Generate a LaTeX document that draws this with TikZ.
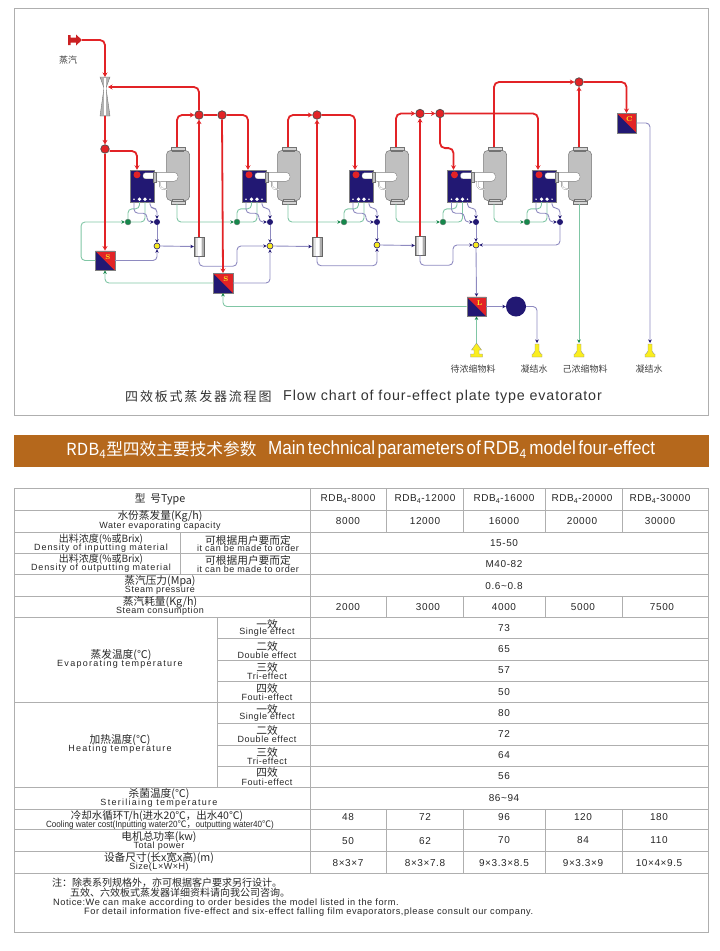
\documentclass[tikz,border=0pt]{standalone}
\usepackage{fontspec}
\usetikzlibrary{arrows.meta, positioning}
\newfontfamily\cjk{Noto Sans CJK SC}
\newfontfamily\cjkw[LetterSpace=14]{Noto Sans CJK SC}
\newfontfamily\lat[FakeStretch=0.9]{Liberation Sans}
\newfontfamily\latw[LetterSpace=6]{Liberation Sans}
\newfontfamily\latm[LetterSpace=10]{Liberation Sans}
\newfontfamily\latx[LetterSpace=14]{Liberation Sans}
\definecolor{steamred}{RGB}{226,35,38}
\definecolor{navy}{RGB}{34,24,115}
\definecolor{condline}{RGB}{142,138,192}
\definecolor{concline}{RGB}{128,198,165}
\definecolor{valvegreen}{RGB}{22,135,75}
\definecolor{sepgray}{RGB}{192,192,192}
\definecolor{tablegray}{RGB}{175,175,175}
\definecolor{bannerbrown}{RGB}{181,104,28}
\definecolor{pipeyellow}{RGB}{250,238,30}
\tikzset{
  steam/.style={draw=steamred, line width=1.8pt, rounded corners=5pt, -{Stealth[length=4.5pt,width=5pt]}},
  steamplain/.style={draw=steamred, line width=1.8pt, rounded corners=5pt},
  cond/.style={draw=condline, line width=0.9pt, rounded corners=4pt},
  condtip/.style={cond, -{Stealth[length=3.5pt,width=3.5pt,color=navy]}},
  conc/.style={draw=concline, line width=0.9pt, rounded corners=4pt},
  conctip/.style={conc, -{Stealth[length=3.5pt,width=3.5pt,color=valvegreen]}},
  junct/.style={circle, fill=steamred, draw=black!70, line width=0.7pt, minimum size=8.5pt, inner sep=0pt},
  greenv/.style={circle, fill=valvegreen, draw=black!50, line width=0.3pt, minimum size=6pt, inner sep=0pt},
  navyv/.style={circle, fill=navy, minimum size=6pt, inner sep=0pt},
  yellowv/.style={circle, fill=pipeyellow, draw=navy, line width=0.6pt, minimum size=6pt, inner sep=0pt},
  plate/.style={rectangle, fill=navy, draw=gray, line width=0.4pt, minimum width=24pt, minimum height=32pt, inner sep=0pt},
  sepbody/.style={rectangle, rounded corners=4pt, fill=sepgray, draw=black!55, line width=0.5pt, minimum width=23pt, minimum height=50pt, inner sep=0pt},
  flange/.style={rectangle, fill=sepgray!70, draw=black!55, line width=0.4pt, minimum width=14pt, minimum height=2.6pt, inner sep=0pt},
  tank/.style={rectangle, fill=black!32, draw=black!60, line width=0.4pt, minimum width=10pt, minimum height=19pt, inner sep=0pt,
    path picture={\fill[black!10] ([xshift=-3pt]path picture bounding box.south) rectangle ([xshift=3pt]path picture bounding box.north);
      \fill[white] ([xshift=-1.5pt]path picture bounding box.south) rectangle ([xshift=1.5pt]path picture bounding box.north);}},
  hx/.style={rectangle, fill=navy, draw=gray, line width=0.4pt, minimum size=19.5pt, inner sep=0pt,
    path picture={\fill[steamred] (path picture bounding box.north west) -- (path picture bounding box.north east) -- (path picture bounding box.south east) -- cycle;}},
  hxtext/.style={font=\bfseries\fontsize{7}{7}\selectfont, text=pipeyellow, inner sep=0pt},
  outlet/.style={fill=pipeyellow, draw=black!45, line width=0.3pt},
  flowlbl/.style={font=\cjk\fontsize{9}{9}\selectfont, text=black!75, inner sep=0pt},
  cncell/.style={font=\cjk\fontsize{10.7}{10.7}\selectfont, text=black!85, inner sep=0pt},
  encell/.style={font=\latw\fontsize{9}{9}\selectfont, text=black!85, inner sep=0pt},
  numcell/.style={font=\latw\fontsize{10}{10}\selectfont, text=black!85, inner sep=0pt},
  grid/.style={draw=tablegray, line width=0.7pt}
}
\begin{document}
\begin{tikzpicture}[x=1pt, y=-1pt]
    \useasboundingbox (0,0) rectangle (720,951);

    % outer frame of the flow chart
    \draw[grid] (14,8) rectangle (708,415.5);

    % evaporator sets: plate box, tube, separator, valves
    \foreach \n/\plx/\sepx/\gvx/\pvx in {1/142/178/128/157, 2/254/289/237/270, 3/361/397/344/377, 4/459.5/495/443/476, 5/544/580/527/560} {
        \node[sepbody] (sep\n) at (\sepx,175.5) {};
        \node[flange, minimum width=11pt] (ntop\n) at (\sepx,150.2) {};
        \node[flange] (topf\n) at (\sepx,148.4) {};
        \node[flange, minimum width=11pt] (nbot\n) at (\sepx,200.8) {};
        \node[flange] (botf\n) at (\sepx,202.6) {};
        \node[plate] (pl\n) at (\plx,186) {};
        % steam inlet dot and vapour slot
        \fill[steamred] (pl\n.north) ++(-5,5) circle (3.5pt);
        \filldraw[fill=white, draw=black!40, line width=0.3pt, rounded corners=2.5pt] (pl\n.north) ++(1,3) rectangle ++(13,6);
        \filldraw[fill=white, draw=black!50, line width=0.4pt, rounded corners=4pt] (pl\n.north) ++(12,2.5) rectangle ++(24,9);
        \filldraw[fill=sepgray, draw=black!55, line width=0.3pt] (pl\n.north) ++(11.5,2) rectangle ++(3,10);
        \draw[black!50, double=white, line width=0.3pt, double distance=1pt, rounded corners=2pt] (pl\n.north) ++(18,11.5) -- ++(0,7) -- ++(7,1);
        % ports along the bottom of the plate box
        \fill[white] (pl\n.south) ++(-8,-3) circle (0.8pt);
        \fill[white] (pl\n.south) ++(-2.5,-3) circle (1.8pt);
        \fill[white] (pl\n.south) ++(3,-3) circle (1.8pt);
        \fill[white] (pl\n.south) ++(8,-3) circle (0.8pt);
        \node[greenv] (gv\n) at (\gvx,222) {};
        \node[navyv] (pv\n) at (\pvx,222) {};
        % branch lines under the plate box
        \draw[conc] (gv\n.north) -- ++(0,-10) -| ([xshift=-2.5pt]pl\n.south);
        \draw[conc] ([xshift=3pt]pl\n.south) |- (gv\n.east);
        \draw[condtip] ([xshift=-8pt]pl\n.south) |- ++(13,11) |- (pv\n.west);
        \draw[condtip] ([xshift=8pt]pl\n.south) -- ++(0,6) -| (pv\n.north);
    }

    % heat exchangers, tanks, pump
    \node[hx] (s1) at (105,260.5) {};
    \node[hxtext] (s1t) at ([shift={(3,-3.5)}]s1.center) {S};
    \node[hx] (s2) at (223,283) {};
    \node[hxtext] (s2t) at ([shift={(3,-3.5)}]s2.center) {S};
    \node[hx] (lbox) at (476.5,306.5) {};
    \node[hxtext] (lboxt) at ([shift={(3,-3.5)}]lbox.center) {L};
    \node[hx] (cbox) at (626.5,123) {};
    \node[hxtext] (cboxt) at ([shift={(3,-3.5)}]cbox.center) {C};
    \node[tank] (ta1) at (199,246.5) {};
    \node[tank] (ta2) at (317,246.5) {};
    \node[tank] (ta3) at (420,245.5) {};
    \node[circle, fill=navy, minimum size=20pt, inner sep=0pt] (pump) at (516,306.5) {};

    % junctions on the steam line and on the liquid line
    \node[junct] (j1) at (105,149) {};
    \node[junct] (j2) at (199,115) {};
    \node[junct] (j3) at (222,115) {};
    \node[junct] (j4) at (317,115) {};
    \node[junct] (j5) at (420,113.5) {};
    \node[junct] (j6) at (440,113.5) {};
    \node[junct] (j7) at (579,82) {};
    \node[yellowv] (yv1) at (157,246) {};
    \node[yellowv] (yv2) at (270,246) {};
    \node[yellowv] (yv3) at (377,245) {};
    \node[yellowv] (yv4) at (476,245) {};

    % ejector and steam inlet
    \coordinate (ejt) at (105,77);
    \coordinate (ejb) at (105,116);
    \coordinate (ejs) at (108,87);
    \coordinate (inlet) at (82,40);
    \filldraw[fill=black!30, draw=black!55, line width=0.4pt] (100,77) -- (110,77) -- (106,88) -- (110,116) -- (100,116) -- (104,88) -- cycle;
    \fill[white] (104.3,78) -- (105.7,78) -- (105.7,115) -- (104.3,115) -- cycle;
    \fill[steamred!90!black] (68,35) rectangle (70.5,45) (70.5,37.5) rectangle (76,42.5);
    \fill[steamred!90!black] (76,34.5) -- (82,40) -- (76,45.5) -- cycle;

    % outlets and feed
    \foreach \nm/\x in {outa/537, outc/579, outd/650} {
        \coordinate (\nm) at (\x,343);
        \filldraw[outlet] (\nm) ++(-2,1) -- ++(4,0) -- ++(0,7) -- ++(2,3) -- ++(1,0) -- ++(0,3) -- ++(-10,0) -- ++(0,-3) -- ++(1,0) -- ++(2,-3) -- cycle;
    }
    \coordinate (feed) at (476.5,343);
    \filldraw[outlet] (feed) -- ++(5,7) -- ++(-2.5,0) -- ++(0,4) -- ++(3.5,0) -- ++(0,3) -- ++(-12,0) -- ++(0,-3) -- ++(3.5,0) -- ++(0,-4) -- ++(-2.5,0) -- cycle;

    % concentrate lines
    \foreach \a/\b in {1/2, 2/3, 3/4, 4/5}
        \draw[conctip] ([xshift=-1pt]botf\a.south) |- (gv\b.west);
    \draw[conctip] (s1.west) -- ++(-14,0) |- (gv1.west);
    \draw[conctip] (s2.west) -| (s1.south);
    \draw[conctip] (lbox.west) -| (s2.south);
    \draw[conctip] (feed) -- (lbox.south);
    \draw[conctip] ([xshift=-1pt]botf5.south) -- (outc);

    % condensate and liquid lines
    \foreach \n in {1,2,3,4}
        \draw[condtip] (pv\n.south) -- (yv\n.north);
    \foreach \n in {1,2,3}
        \draw[condtip] (yv\n.east) -- (ta\n.west);
    \draw[condtip] (s1.east) -| (yv1.south);
    \draw[condtip] (s2.east) -| (yv2.south);
    \draw[condtip] (ta1.south) |- ++(38,10) |- (yv2.west);
    \draw[condtip] (ta2.south) -- ++(0,9.5) -| (yv3.south);
    \draw[condtip] (ta3.south) |- ++(33,10) |- (yv4.west);
    \draw[condtip] (pv5.south) |- (yv4.east);
    \draw[condtip] (yv4.south) -- (lbox.north);
    \draw[condtip] (lbox.east) -- (pump.west);
    \draw[condtip] (pump.east) -| (outa);
    \draw[condtip] (cbox.east) -| (outd);

    % steam lines
    \draw[steam] (inlet) -| (ejt);
    \draw[steam] (ejb) -- (j1.north);
    \draw[steam] (j1.south) -- (s1.north);
    \draw[steam] (j1.east) ++(0,2) -| ([xshift=-5pt]pl1.north);
    \draw[steam] ([xshift=-1pt]topf1.north) |- (j2.west);
    \draw[steamplain] (j2.east) -- (j3.west);
    \draw[steam] (j3.east) -| ([xshift=-6pt]pl2.north);
    \draw[steam] (j3.south) -- (s2.north);
    \draw[steam] (j2.north) |- (ejs);
    \draw[steam] (ta1.north) -- (j2.south);
    \draw[steam] ([xshift=-1pt]topf2.north) |- (j4.west);
    \draw[steam] (ta2.north) -- (j4.south);
    \draw[steam] (j4.east) -| ([xshift=-6pt]pl3.north);
    \draw[steam] ([xshift=-1pt]topf3.north) |- (j5.west);
    \draw[steam] (ta3.north) -- (j5.south);
    \draw[steam] (j5.east) -- (j6.west);
    \draw[steam] (j6.south) -- ++(0,30) -| ([xshift=-6pt]pl4.north);
    \draw[steam] (j6.east) -| ([xshift=-6pt]pl5.north);
    \draw[steam] ([xshift=-1pt]topf4.north) |- (j7.west);
    \draw[steam] ([xshift=-1pt]topf5.north) -- (j7.south);
    \draw[steam] (j7.east) -| (cbox.north);

    % flow chart labels
    \node[flowlbl] (lblsteam) at (68,60) {蒸汽};
    \node[flowlbl] (lblfeed) at (473,369) {待浓缩物料};
    \node[flowlbl] (lblcond) at (534,369) {凝结水};
    \node[flowlbl] (lbldone) at (585,369) {己浓缩物料};
    \node[flowlbl] (lblcondb) at (649,369) {凝结水};
    \node[inner sep=0pt, anchor=west, font=\cjkw\fontsize{13}{13}\selectfont, text=black!80] (ttlcn) at (125,397) {四效板式蒸发器流程图};
    \node[inner sep=0pt, anchor=west, font=\latw\fontsize{14.3}{14}\selectfont, text=black!80] (ttlen) at (283,397) {Flow chart of four-effect plate type evatorator};

    % banner
    \fill[bannerbrown] (14,435) rectangle (709,467);
    \node[inner sep=0pt, anchor=west, text=white, font=\cjk\fontsize{16.7}{17}\selectfont] (bancn) at (66,450) {RDB\textsubscript{4}型四效主要技术参数};
    \node[inner sep=0pt, anchor=west, text=white, font=\lat\fontsize{19}{19}\selectfont] (banen) at (268,450) {\spaceskip=2.5pt Main technical parameters of RDB\textsubscript{4} model four-effect};

    % table rules
    \draw[grid] (14,488) rectangle (708,932);
    \foreach \y in {510,532,553,574,596,617,702,787,809,829,851,873}
        \draw[grid] (14,\y) -- (708,\y);
    \foreach \y in {638,660,681,723,745,766}
        \draw[grid] (217,\y) -- (708,\y);
    \draw[grid] (310,488) -- (310,873);
    \draw[grid] (180,532) -- (180,574);
    \draw[grid] (217,617) -- (217,787);
    \foreach \x in {386,463,545,622} {
        \draw[grid] (\x,488) -- (\x,532);
        \draw[grid] (\x,596) -- (\x,617);
        \draw[grid] (\x,809) -- (\x,873);
    }

    % table text, chinese lines
    \foreach \x/\y/\txt [count=\i] in {
        160/499/{型\ \ 号Type}, 160/516/{水份蒸发量(Kg/h)},
        101/539/{\fontsize{10}{10}\selectfont 出料浓度(\%或Brix)}, 248/540/{可根据用户要而定},
        101/559/{\fontsize{10}{10}\selectfont 出料浓度(\%或Brix)}, 248/560/{可根据用户要而定},
        160/581/{蒸汽压力(Mpa)}, 160/602/{蒸汽耗量(Kg/h)},
        121/655/{蒸发温度(℃)}, 120/740/{加热温度(℃)},
        267/624/{一效}, 267/646/{二效}, 267/667/{三效}, 267/688/{四效},
        267/709/{一效}, 267/730/{二效}, 267/752/{三效}, 267/772/{四效},
        159/794/{杀菌温度(℃)}, 157/816/{\fontsize{10.5}{10.5}\selectfont 冷却水循环T/h(进水20℃，出水40℃)},
        159/837/{电机总功率(kw)}, 159/858/{设备尺寸(长x宽x高)(m)}}
        \node[cncell] (cn\i) at (\x,\y) {\txt};

    % table text, english lines
    \foreach \x/\y/\txt [count=\i] in {
        160/526.5/{Water evaporating capacity},
        101/548/{\latm Density of inputting material}, 248/548.5/{it can be made to order},
        101/568.5/{\latm Density of outputting material}, 248/569.5/{it can be made to order},
        160/590.5/{Steam pressure}, 160/611.5/{Steam consumption},
        120/664.5/{\latx Evaporating temperature}, 120/749.5/{\latx Heating temperature},
        267/632.5/{Single effect}, 267/655/{Double effect}, 267/676/{Tri-effect}, 267/697/{Fouti-effect},
        267/717.5/{Single effect}, 267/739/{Double effect}, 267/761/{Tri-effect}, 267/782/{Fouti-effect},
        159/803/{\latx Steriliaing temperature}, 159/846/{Total power}, 159/867/{Size(L×W×H)}}
        \node[encell] (en\i) at (\x,\y) {\txt};
    \node[inner sep=0pt, font=\lat\fontsize{9}{9}\selectfont, text=black!85] (encool) at (160,824.5) {Cooling water cost(Inputting water20{\cjk ℃，}outputting water40{\cjk ℃})};

    % table values
    \foreach \x/\y/\txt [count=\i] in {
        348/499/{RDB\textsubscript{4}-8000}, 425/499/{RDB\textsubscript{4}-12000}, 504/499/{RDB\textsubscript{4}-16000}, 582/499/{RDB\textsubscript{4}-20000}, 660/499/{RDB\textsubscript{4}-30000},
        348/521/8000, 425/521/12000, 504/521/16000, 582/521/20000, 660/521/30000,
        504/543/15-50, 504/564/M40-82, 504/586/0.6\textasciitilde0.8,
        348/607/2000, 428/607/3000, 504/607/4000, 583/607/5000, 662/607/7500,
        504/628/73, 504/649/65, 504/670/57, 504/692/50,
        504/713/80, 504/734/72, 504/755/64, 504/776/56, 504/798/86\textasciitilde94,
        348/817/48, 425/817/72, 504/817/96, 583/817/120, 659/817/180,
        348/841/50, 425/841/62, 504/840/70, 583/840/84, 659/840/110,
        348/863.5/8×3×7, 425/863.5/8×3×7.8, 504/863/9×3.3×8.5, 583/863/9×3.3×9, 659/863/10×4×9.5}
        \node[numcell] (val\i) at (\x,\y) {\txt};

    % notes under the table
    \node[cncell, anchor=west, font=\cjk\fontsize{10}{10}\selectfont] (note1) at (52,883) {注：除表系列规格外，亦可根据客户要求另行设计。};
    \node[cncell, anchor=west, font=\cjk\fontsize{10}{10}\selectfont] (note2) at (70,893) {五效、六效板式蒸发器详细资料请向我公司咨询。};
    \node[encell, anchor=west, font=\latw\fontsize{9.2}{9}\selectfont] (note3) at (53,903) {Notice:We can make according to order besides the model listed in the form.};
    \node[encell, anchor=west, font=\latw\fontsize{9.2}{9}\selectfont] (note4) at (84,912) {For detail information five-effect and six-effect falling film evaporators,please consult our company.};

\end{tikzpicture}
\end{document}
